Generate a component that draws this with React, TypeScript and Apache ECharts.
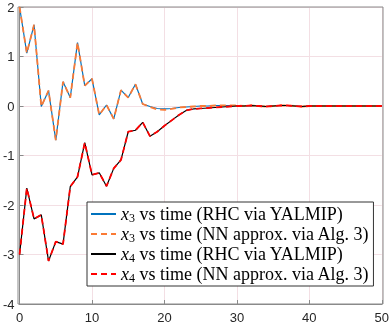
import React, { useEffect, useRef } from "react";
import * as echarts from "echarts";

const times: number[] = Array.from({ length: 51 }, (_, i) => i);

const x3Rhc: number[] = [
  2.0, 1.07, 1.64, -0.01, 0.31, -0.69, 0.49, 0.17, 1.28, 0.41, 0.55, -0.18, 0.02, -0.26, 0.32, 0.17, 0.44,
  0.04, -0.01, -0.05, -0.06, -0.05, -0.03, -0.02, -0.01, 0.0, 0.0, 0.01, 0.01, 0.01, 0.01, 0.0, 0.01, 0.0,
  -0.01, 0.0, 0.01, 0.01, 0.0, -0.01, 0.0, 0.0, 0.0, 0.0, 0.0, 0.0, 0.0, 0.0, 0.0, 0.0, 0.0,
];
const x3Nn: number[] = [
  2.0, 1.07, 1.64, -0.01, 0.31, -0.69, 0.49, 0.17, 1.28, 0.41, 0.55, -0.18, 0.02, -0.26, 0.32, 0.17, 0.44,
  0.04, -0.02, -0.07, -0.08, -0.06, -0.03, -0.02, -0.01, 0.0, 0.0, 0.01, 0.01, 0.01, 0.01, 0.0, 0.01, 0.0,
  -0.01, 0.0, 0.01, 0.01, 0.0, -0.01, 0.0, 0.0, 0.0, 0.0, 0.0, 0.0, 0.0, 0.0, 0.0, 0.0, 0.0,
];
const x4Rhc: number[] = [
  -3.0, -1.66, -2.28, -2.2, -3.13, -2.74, -2.79, -1.63, -1.43, -0.74, -1.39, -1.35, -1.62, -1.26, -1.09,
  -0.52, -0.49, -0.33, -0.61, -0.52, -0.4, -0.29, -0.18, -0.09, -0.06, -0.05, -0.04, -0.03, -0.02, -0.01,
  0.0, 0.0, 0.01, 0.0, -0.01, 0.0, 0.01, 0.01, 0.0, -0.01, 0.0, 0.0, 0.0, 0.0, 0.0, 0.0, 0.0, 0.0, 0.0,
  0.0, 0.0,
];
const x4Nn: number[] = [
  -3.0, -1.66, -2.28, -2.2, -3.13, -2.74, -2.79, -1.63, -1.43, -0.74, -1.39, -1.35, -1.62, -1.26, -1.09,
  -0.52, -0.49, -0.33, -0.61, -0.52, -0.4, -0.29, -0.18, -0.09, -0.06, -0.05, -0.04, -0.03, -0.02, -0.01,
  0.0, 0.0, 0.01, 0.0, -0.01, 0.0, 0.01, 0.01, 0.0, -0.01, 0.0, 0.0, 0.0, 0.0, 0.0, 0.0, 0.0, 0.0, 0.0,
  0.0, 0.0,
];

const seriesNames: string[] = ["x3rhc", "x3nn", "x4rhc", "x4nn"];
const legendVar: string[] = ["3", "3", "4", "4"];
const legendText: string[] = [
  " vs time (RHC via YALMIP)",
  " vs time (NN approx. via Alg. 3)",
  " vs time (RHC via YALMIP)",
  " vs time (NN approx. via Alg. 3)",
];
const colors: string[] = ["#0072BD", "#FA7A35", "#000000", "#FF0000"];

const serif = "'Liberation Serif', 'DejaVu Serif', serif";
const sans = "'Liberation Sans', Arial, sans-serif";

export default function App() {
  const ref = useRef<HTMLDivElement>(null);
  useEffect(() => {
    if (!ref.current) return;
    const chart = echarts.init(ref.current, undefined, { renderer: "svg" });
    const datas = [x3Rhc, x3Nn, x4Rhc, x4Nn];
    const series = datas.map((d, k) => ({
      name: seriesNames[k],
      type: "line",
      data: d.map((v, i) => [times[i], v]),
      symbol: "none",
      z: 2 + k,
      lineStyle: {
        color: colors[k],
        width: k % 2 === 0 ? 1.2 : 1.8,
        type: k % 2 === 0 ? "solid" : [6, 4],
      },
      itemStyle: { color: colors[k] },
    }));
    chart.setOption({
      animation: false,
      grid: { left: 18, right: 9, top: 7, bottom: 23, show: false },
      xAxis: {
        type: "value",
        min: 0,
        max: 50,
        interval: 10,
        axisLine: { show: true, onZero: false, lineStyle: { color: "#8a8a8a", width: 1 } },
        axisTick: { show: true, inside: true, length: 4, lineStyle: { color: "#8a8a8a" } },
        axisLabel: { color: "#262626", fontFamily: sans, fontSize: 13, margin: 7 },
        splitLine: { show: true, lineStyle: { color: "#f3dfe4", width: 1 } },
      },
      yAxis: {
        type: "value",
        min: -4,
        max: 2,
        interval: 1,
        axisLine: { show: true, onZero: false, lineStyle: { color: "#8a8a8a", width: 1 } },
        axisTick: { show: true, inside: true, length: 4, lineStyle: { color: "#8a8a8a" } },
        axisLabel: { color: "#262626", fontFamily: sans, fontSize: 13, margin: 5 },
        splitLine: { show: true, lineStyle: { color: "#f3dfe4", width: 1 } },
      },
      graphic: [
        {
          type: "rect",
          shape: { x: 18, y: 7, width: 365, height: 297 },
          style: { fill: "none", stroke: "#8a8a8a", lineWidth: 1 },
          silent: true,
          z: 1,
        },
      ],
      legend: {
        orient: "vertical",
        left: 87,
        top: 202,
        padding: [2, 4, 2, 3],
        itemWidth: 25,
        itemHeight: 14,
        itemGap: 0,
        backgroundColor: "#ffffff",
        borderColor: "#333333",
        borderWidth: 1,
        borderRadius: 0,
        itemStyle: { opacity: 0 },
        data: seriesNames,
        formatter: (name: string) => {
          const k = seriesNames.indexOf(name);
          return `{i|x}{s|${legendVar[k]}}{t|${legendText[k]}}`;
        },
        textStyle: {
          color: "#000",
          lineHeight: 20,
          rich: {
            i: { fontFamily: serif, fontStyle: "italic", fontSize: 18, color: "#000", lineHeight: 20 },
            s: { fontFamily: serif, fontSize: 12, color: "#000", lineHeight: 20, verticalAlign: "bottom", padding: [7, 0, 0, 0] },
            t: { fontFamily: serif, fontSize: 18, color: "#000", lineHeight: 20 },
          },
        },
      },
      series,
    });
    return () => chart.dispose();
  }, []);
  return <div ref={ref} style={{ position: "fixed", left: 0, top: 0, width: 392, height: 327 }} />;
}
